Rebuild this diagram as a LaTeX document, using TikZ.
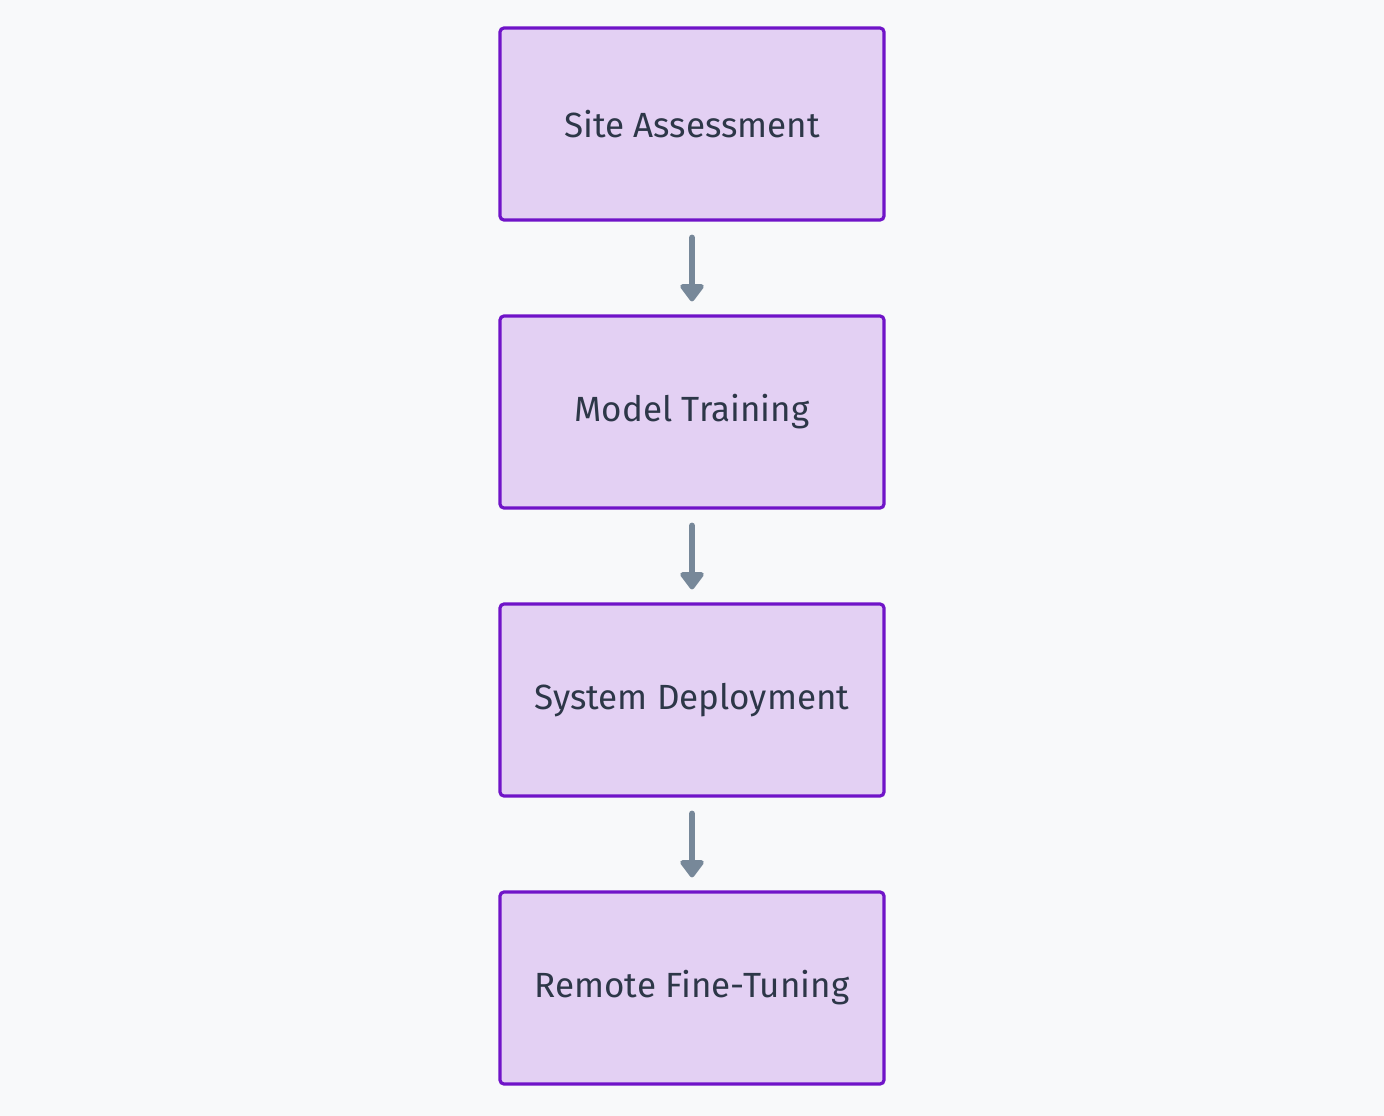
\documentclass[tikz,border=0pt]{standalone}
\usepackage{fontspec}
\setmainfont{Fira Sans}
\usetikzlibrary{arrows.meta}
\definecolor{bg}{HTML}{F8F9FA}
\definecolor{boxfill}{HTML}{E3D0F3}
\definecolor{boxdraw}{HTML}{7014C8}
\definecolor{arrowc}{HTML}{778899}
\definecolor{textc}{HTML}{2D3748}
\begin{document}
\begin{tikzpicture}[x=1pt,y=-1pt,
  stepbox/.style={draw=boxdraw, fill=boxfill, line width=3.2pt, rounded corners=4pt,
    minimum width=384pt, minimum height=192pt, inner sep=0pt, text=textc,
    font=\fontsize{35}{42}\selectfont},
  flow/.style={draw=arrowc, line width=6pt, line cap=round,
    -{Triangle[width=27pt,length=19pt,round]}, shorten <=16pt, shorten >=13pt}]
\fill[bg] (0,0) rectangle (1384,1116);
\useasboundingbox (0,0) rectangle (1384,1116);
\node[stepbox] (a) at (692,124) {Site Assessment};
\node[stepbox] (b) at (692,412) {Model Training};
\node[stepbox] (c) at (692,700) {System Deployment};
\node[stepbox] (d) at (692,988) {Remote Fine-Tuning};
\draw[flow] (a) -- (b);
\draw[flow] (b) -- (c);
\draw[flow] (c) -- (d);
\end{tikzpicture}
\end{document}
